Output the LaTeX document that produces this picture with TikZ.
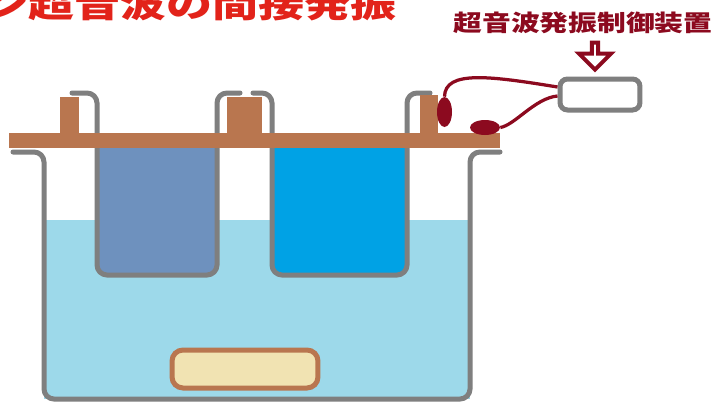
\documentclass[tikz,border=0pt]{standalone}
\usepackage{fontspec}
\usepackage{graphicx}
\newfontfamily\cjk{Noto Sans CJK JP}
\usetikzlibrary{shapes.geometric, shapes.arrows}

\definecolor{tankgray}{HTML}{7F7F7F}
\definecolor{wood}{HTML}{B9764F}
\definecolor{water}{HTML}{9DD9EA}
\definecolor{steel}{HTML}{6E91BE}
\definecolor{vivid}{HTML}{00A2E5}
\definecolor{cream}{HTML}{F1E3B2}
\definecolor{wine}{HTML}{8C0A1F}
\definecolor{titlered}{HTML}{E2231A}

\begin{document}
\begin{tikzpicture}[
    x=0.02cm, y=-0.02cm,
    wall/.style={draw=tankgray, line width=0.1cm, line cap=round, rounded corners=0.2cm},
    board/.style={fill=wood},
    cable/.style={draw=wine, line width=0.065cm},
    pad/.style={ellipse, fill=wine, inner sep=0pt},
    heading/.style={text=titlered, inner sep=0pt, font=\cjk\bfseries\fontsize{20}{20}\selectfont},
    caption/.style={text=wine, inner sep=0pt, font=\cjk\bfseries\fontsize{13}{13}\selectfont},
]

%Background
\fill[white] (0,0) rectangle (717,403);
\useasboundingbox (0,0) rectangle (717,403);

% Title
\node[heading, anchor=base east] (title) at (397,17.5) {\scalebox{1.31}[1]{ン超音波の間接発振}};

% Water in the bath
\fill[water] (44,220) rectangle (470,399);

% Bath
\draw[wall] (13,152) -- (44,152) -- (44,399) -- (470,399) -- (470,152) -- (500,152);

% Beakers (fill first, outline on top)
\fill[steel, rounded corners=0.2cm] (97,135) rectangle (217,275);
\fill[vivid, rounded corners=0.2cm] (272,135) rectangle (407,275);
\draw[wall] (72,93) -- (97,93) -- (97,275) -- (217,275) -- (217,93) -- (240,93);
\draw[wall] (253,93) -- (272,93) -- (272,275) -- (407,275) -- (407,93) -- (430,93);

% Vibrating plate on the bottom
\node[draw=wood, fill=cream, line width=0.1cm, rounded corners=0.22cm,
      minimum width=2.92cm, minimum height=0.76cm] (horn) at (245,369) {};

% Posts and lid
\fill[board] (60,97) rectangle (79,134);
\fill[board] (227,97) rectangle (262,134);
\fill[board] (420,95) rectangle (438,134);
\fill[board] (9,133) rectangle (500,148);

% Control unit
\node[draw=tankgray, fill=white, line width=0.1cm, rounded corners=0.15cm,
      minimum width=1.6cm, minimum height=0.62cm] (ctrl) at (600,94.5) {};
\node[caption, anchor=base] (unit_label) at (583,31) {\scalebox{1.26}[1]{超音波発振制御装置}};
\node[single arrow, draw=wine, fill=white, line width=0.08cm, shape border rotate=270,
      minimum height=0.54cm, minimum width=0.64cm, single arrow head extend=0.16cm,
      inner sep=0pt] (arr) at (595,54.5) {};

% Transducer pads
\node[pad, minimum width=0.3cm, minimum height=0.6cm] (padA) at (444.5,112) {};
\node[pad, minimum width=0.6cm, minimum height=0.3cm] (padB) at (485,127.5) {};

% Cables
\draw[cable] ([yshift=0.15cm]ctrl.west) .. controls (490,76) and (445,70) .. (padA.north);
\draw[cable] ([yshift=-0.03cm]ctrl.west) .. controls (535,98) and (515,125) .. (padB.east);

\end{tikzpicture}
\end{document}
